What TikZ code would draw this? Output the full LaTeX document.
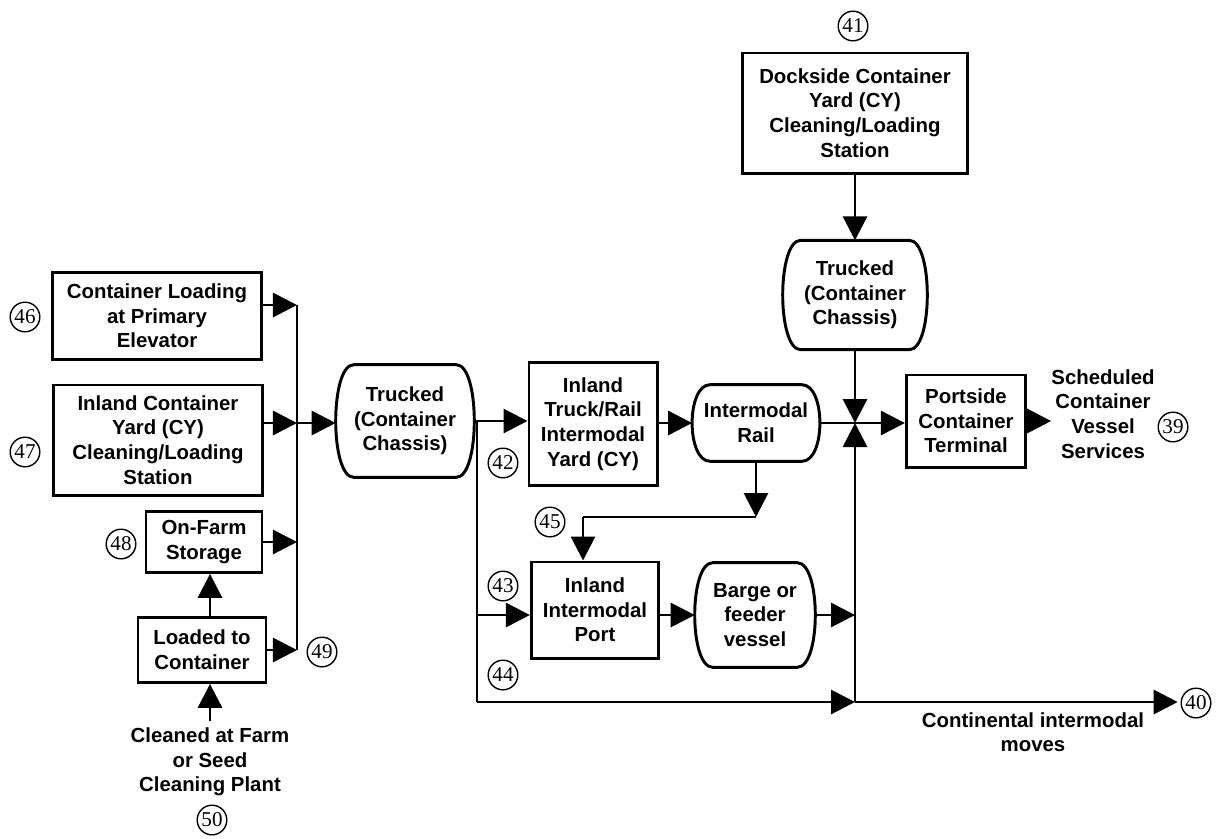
\documentclass[tikz,border=0pt]{standalone}
\usepackage{fontspec}
\setmainfont{Liberation Sans}
\newfontfamily\numfont{Liberation Serif}
\usetikzlibrary{arrows.meta,positioning}

\begin{document}
\begin{tikzpicture}[
  x=0.025cm, y=-0.025cm,
  box/.style={draw, line width=2.1pt, align=center, inner sep=2pt,
    font=\fontsize{14.5}{17.5}\selectfont\bfseries},
  barrel/.style={align=center, inner sep=2pt,
    font=\fontsize{14.5}{17.5}\selectfont\bfseries},
  lbl/.style={align=center, inner sep=0pt,
    font=\fontsize{14.5}{17.5}\selectfont\bfseries},
  num/.style={circle, draw, line width=1pt, minimum size=0.74cm, inner sep=0pt,
    font=\numfont\fontsize{15}{15}\selectfont},
  line/.style={line width=2.1pt},
  arr/.style={line width=2.1pt, -{Triangle[length=0.6cm, width=0.6cm]}}
]
  \useasboundingbox (0,0) rectangle (1216,838);

  % sources
  \node[box, minimum width=5.22cm, minimum height=2.18cm] (elev) at (157,316) {Container Loading\\at Primary\\Elevator};
  \node[box, minimum width=5.2cm, minimum height=2.75cm] (icy) at (158,440) {Inland Container\\Yard (CY)\\Cleaning/Loading\\Station};
  \node[box, minimum width=2.9cm, minimum height=1.52cm] (farm) at (204,542) {On-Farm\\Storage};
  \node[box, minimum width=3.2cm, minimum height=1.62cm] (load) at (202,650) {Loaded to\\Container};
  \node[lbl, inner sep=5pt] (clean) at (210,762) {Cleaned at Farm\\or Seed\\Cleaning Plant};

  % inland
  \node[barrel, minimum width=3.45cm, minimum height=2.8cm] (truckA) at (405,421) {Trucked\\(Container\\Chassis)};
  \node[box, minimum width=3.2cm, minimum height=3.08cm] (yard) at (593,424) {Inland\\Truck/Rail\\Intermodal\\Yard (CY)};
  \node[barrel, minimum width=3.18cm, minimum height=1.9cm] (rail) at (756,423) {Intermodal\\Rail};
  \node[box, minimum width=3.18cm, minimum height=2.4cm] (port) at (595,610) {Inland\\Intermodal\\Port};
  \node[barrel, minimum width=3.0cm, minimum height=2.6cm] (barge) at (755,615) {Barge or\\feeder\\vessel};

  % port side
  \node[box, minimum width=5.62cm, minimum height=3.0cm] (dock) at (855,113) {Dockside Container\\Yard (CY)\\Cleaning/Loading\\Station};
  \node[barrel, minimum width=3.6cm, minimum height=2.72cm] (truckB) at (855,295) {Trucked\\(Container\\Chassis)};
  \node[box, minimum width=2.98cm, minimum height=2.3cm] (term) at (966,421) {Portside\\Container\\Terminal};
  \node[lbl] (sched) at (1103,414) {Scheduled\\Container\\Vessel\\Services};
  \node[lbl] (cont) at (1033,732) {Continental intermodal\\moves};

  % numbers
  \node[num] (n39) at (1173,427) {39};
  \node[num] (n40) at (1196,703) {40};
  \node[num] (n41) at (853,26) {41};
  \node[num] (n42) at (503,463) {42};
  \node[num] (n43) at (503,586) {43};
  \node[num] (n44) at (503,675) {44};
  \node[num] (n45) at (550,522) {45};
  \node[num] (n46) at (25,317) {46};
  \node[num] (n47) at (25,452) {47};
  \node[num] (n48) at (121,544) {48};
  \node[num] (n49) at (322,652) {49};
  \node[num] (n50) at (212,820) {50};

  % barrel outlines
  \foreach \b in {truckA,truckB,rail,barge}
    \draw[line] ([xshift=0.45cm]\b.north west) -- ([xshift=-0.45cm]\b.north east)
      .. controls ([xshift=0.15cm]\b.north east) and ([xshift=0.15cm]\b.south east) .. ([xshift=-0.45cm]\b.south east)
      -- ([xshift=0.45cm]\b.south west)
      .. controls ([xshift=-0.15cm]\b.south west) and ([xshift=-0.15cm]\b.north west) .. cycle;

  \coordinate (busA) at (297,305);
  \coordinate (busB) at (297,423);
  \coordinate (split) at (477,421);
  \coordinate (splitlow) at (477,702);
  \coordinate (mergelow) at (855,702);
  \coordinate (jn) at (855,423);
  \coordinate (rj) at (756,517);
  \coordinate (pj) at (583,517);

  % collecting bus
  \draw[line] (busA) -- (load.east -| busA);
  \draw[arr] (elev.east |- busA) -- (busA);
  \draw[arr] (icy.east |- busB) -- (busB);
  \draw[arr] (farm.east) -- (farm.east -| busA);
  \draw[arr] (load.east) -- (load.east -| busA);
  \draw[arr] (clean.north) -- (clean.north |- load.south);
  \draw[arr] (clean.north |- load.north) -- (clean.north |- farm.south);
  \draw[arr] (busB) -- (busB -| truckA.west);

  % inland moves
  \draw[arr] (truckA.east) -- (truckA.east -| yard.west);
  \draw[line] (split) -- (splitlow);
  \draw[arr] (split |- barge) -- (port.west |- barge);
  \draw[arr] (port.east |- barge) -- (barge.west);
  \draw[arr] (barge.east) -- (barge -| mergelow);
  \draw[arr] (splitlow) -- (mergelow);
  \draw[arr] (yard.east |- rail) -- (rail.west);
  \draw[arr] (rail.south) -- (rj);
  \draw[line] (rj) -- (pj);
  \draw[arr] (pj) -- (pj |- port.north);

  % to the port
  \draw[arr] (dock.south) -- (truckB.north);
  \draw[arr] (truckB.south) -- (jn);
  \draw[line] (rail.east) -- (jn);
  \draw[arr] (mergelow) -- (jn);
  \draw[arr] (jn) -- (jn -| term.west);
  \draw[arr] (term.east) -- (term.east -| sched.west);
  \draw[arr, shorten >=2pt] (mergelow) -- (mergelow -| n40.west);
\end{tikzpicture}
\end{document}
